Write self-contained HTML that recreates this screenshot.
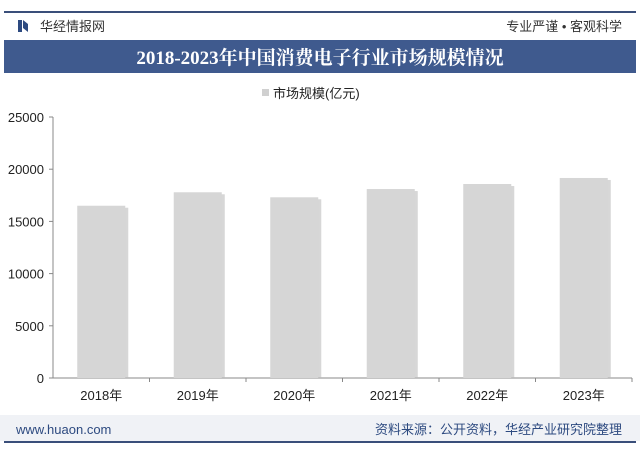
<!DOCTYPE html>
<html><head><meta charset="utf-8">
<style>
body{margin:0;width:640px;height:453px;background:#fff;overflow:hidden;font-family:"Liberation Sans","Noto Sans CJK SC",sans-serif;}
svg{display:block}
</style></head><body>
<svg id="c" width="640" height="453">
<rect x="0" y="0" width="640" height="453" fill="#fff"/>
<line x1="4" y1="12" x2="636" y2="12" stroke="#3a4f7a" stroke-width="2"/>
<g>
<rect x="18" y="20" width="4" height="12" fill="#2d4a80"/><path d="M23 20 L28 24 L28 32 L23 28Z" fill="#2d4a80"/>
<text x="40" y="31" font-size="13" fill="#333">华经情报网</text></g>
<text x="622" y="31" font-size="13" fill="#333" text-anchor="end">专业严谨 • 客观科学</text>
<rect x="4" y="40" width="632" height="33" fill="#3f5a8e"/>
<text x="320" y="64" font-size="19" font-weight="bold" fill="#fff" text-anchor="middle" font-family="'Liberation Serif','Noto Serif CJK SC',serif">2018-2023年中国消费电子行业市场规模情况</text>
<g><rect x="262" y="89" width="7" height="7" fill="#d0d0d0"/><text x="273" y="98" font-size="13" fill="#222">市场规模(亿元)</text></g>
<g id="plot"></g>
<rect x="0" y="415" width="640" height="26" fill="#f0f2f6"/>
<text x="16" y="434" font-size="13" fill="#2d4a80">www.huaon.com</text>
<text x="622" y="434" font-size="13" fill="#2d4a80" text-anchor="end">资料来源：公开资料，华经产业研究院整理</text>
<line x1="4" y1="442" x2="636" y2="442" stroke="#3a4f7a" stroke-width="2"/>
</svg>
<script>
const categories=["2018年","2019年","2020年","2021年","2022年","2023年"];
const values=[16500,17790,17310,18100,18580,19160];
const yTicks=[0,5000,10000,15000,20000,25000];
const NS="http://www.w3.org/2000/svg";
const g=document.getElementById('plot');
const x0=53,x1=632,y0=378,yTop=117,yMax=25000;
const band=(x1-x0)/categories.length;
const ys=v=>y0-(v/yMax)*(y0-yTop);
function mk(t,a){const e=document.createElementNS(NS,t);for(const k in a)e.setAttribute(k,a[k]);g.appendChild(e);return e;}
yTicks.forEach(t=>{
 const l=mk('text',{x:x0-9,y:ys(t)+5,'font-size':13,fill:'#222','text-anchor':'end'});l.textContent=t;
 
 
 const tk=mk('line',{x1:x0-4,x2:x0,y1:ys(t),y2:ys(t),stroke:'#888'});
 
 
});
const ya=mk('line',{x1:x0,x2:x0,y1:yTop,y2:y0,stroke:'#888'});


const xa=mk('line',{x1:x0,x2:x1,y1:y0,y2:y0,stroke:'#888'});


categories.forEach((c,i)=>{
 const cx=x0+band*(i+0.5);
 const tk=mk('line',{x1:x0+band*(i+1),x2:x0+band*(i+1),y1:y0,y2:y0+4,stroke:'#888'});
 
 
 const sh=mk('rect',{x:cx-24+3,y:ys(values[i])+2,width:48,height:y0-ys(values[i])-2,fill:'#bdbdbd',opacity:0.6});
 
 
 const b=mk('rect',{x:cx-24,y:ys(values[i]),width:48,height:y0-ys(values[i]),fill:'#d6d6d6'});
 
 
 const l=mk('text',{x:cx,y:y0+22,'font-size':13,fill:'#222','text-anchor':'middle'});l.textContent=c;
 
 
});
</script>
</body></html>
